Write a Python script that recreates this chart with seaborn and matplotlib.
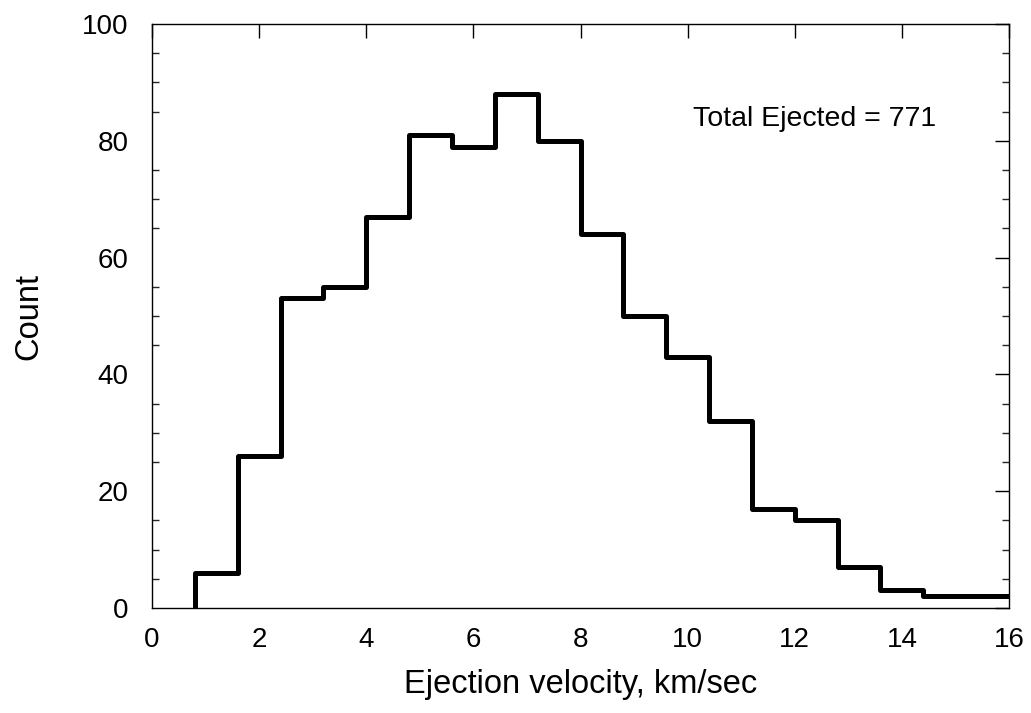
import matplotlib
matplotlib.use("Agg")
import matplotlib.pyplot as plt
import seaborn as sns
import numpy as np
import pandas as pd
from matplotlib.ticker import MultipleLocator

bin_edges = [0.8, 1.6, 2.4, 3.2, 4.0, 4.8, 5.6, 6.4, 7.2, 8.0, 8.8, 9.6,
             10.4, 11.2, 12.0, 12.8, 13.6, 14.4, 15.2, 16.0]
counts = [6, 26, 53, 55, 67, 81, 79, 88, 80, 64, 50, 43, 32, 17, 15, 7, 3, 2, 2]
x_ticks = [0, 2, 4, 6, 8, 10, 12, 14, 16]
y_ticks = [0, 20, 40, 60, 80, 100]
annotation = "Total Ejected = 771"

centers = [(a + b) / 2 for a, b in zip(bin_edges[:-1], bin_edges[1:])]
df = pd.DataFrame({"velocity": centers, "count": counts})

sns.set_style("white")
plt.rcParams["font.family"] = ["Liberation Sans", "DejaVu Sans"]
plt.rcParams["text.color"] = "black"
plt.rcParams["axes.labelcolor"] = "black"

fig = plt.figure(figsize=(10.31, 7.13), dpi=100)
ax = fig.add_axes([0.1474, 0.1473, 0.8313, 0.8190])

sns.histplot(data=df, x="velocity", weights="count", bins=bin_edges,
             element="step", fill=False, color="black", linewidth=3.6, ax=ax)
# left edge of the first bin down to zero
ax.plot([bin_edges[0], bin_edges[0]], [0, counts[0]], color="black",
        linewidth=3.6, solid_capstyle="butt")

ax.set_xlim(0, 16)
ax.set_ylim(0, 100)
ax.set_xticks(x_ticks)
ax.set_yticks(y_ticks)
ax.yaxis.set_minor_locator(MultipleLocator(5))
ax.tick_params(axis="both", which="major", direction="in", length=10, width=1,
               top=True, right=True, labelsize=20, colors="black")
ax.tick_params(axis="y", which="major", pad=17)
ax.tick_params(axis="x", which="major", pad=14)
ax.tick_params(axis="y", which="minor", direction="in", length=5, width=1,
               left=True, right=True)
for s in ax.spines.values():
    s.set_visible(True)
    s.set_linewidth(1.0)
    s.set_color("black")

ax.set_xlabel("Ejection velocity, km/sec", fontsize=23.5, labelpad=11, color="black")
ax.set_ylabel("Count", fontsize=23.5, labelpad=27, color="black")
ax.text(10.1, 83.8, annotation, fontsize=20.5, va="center", ha="left", color="black")

fig.savefig("out.png", dpi=100)
